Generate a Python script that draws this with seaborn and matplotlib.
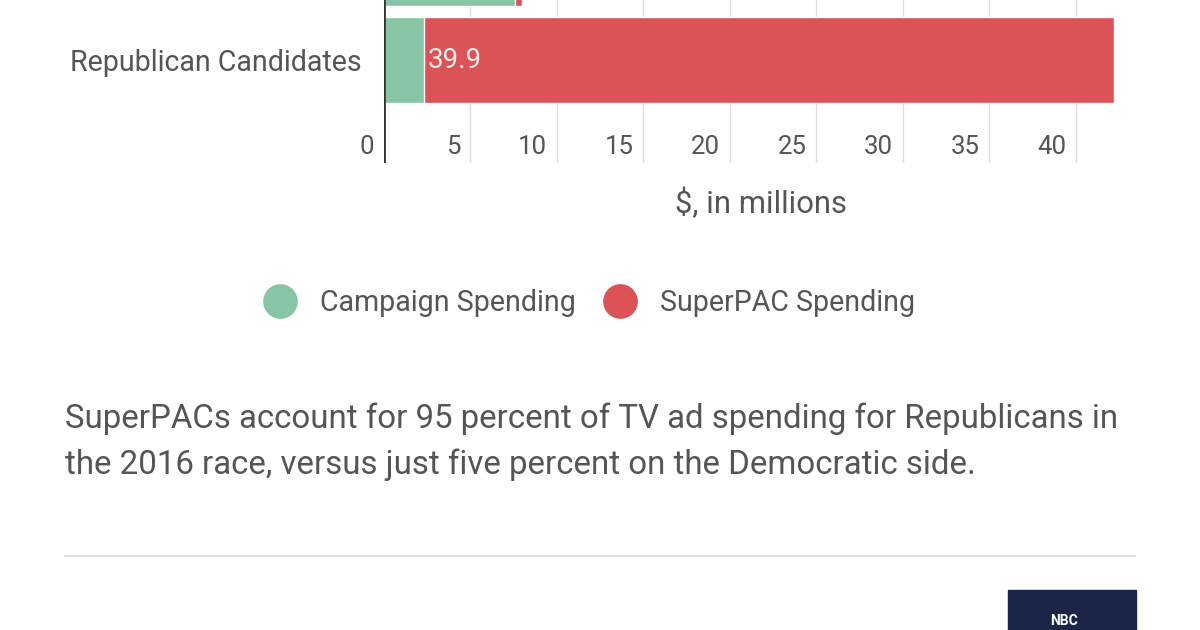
import matplotlib
matplotlib.use("Agg")
import matplotlib.pyplot as plt
import matplotlib.patches as patches
import matplotlib.transforms as mtransforms
from matplotlib.lines import Line2D
import seaborn as sns

# data (millions of dollars, TV ad spending)
groups = ["Democratic Candidates", "Republican Candidates"]
campaign = [7.6, 2.3]
superpac = [0.4, 39.9]
x_ticks = [0, 5, 10, 15, 20, 25, 30, 35, 40]
legend_labels = ["Campaign Spending", "SuperPAC Spending"]
caption = ("SuperPACs account for 95 percent of TV ad spending for Republicans in\n"
           "the 2016 race, versus just five percent on the Democratic side.")

totals = [c + s for c, s in zip(campaign, superpac)]

colors = {
    'green': '#88c5a5',
    'red': '#db5356',
    'text': '#555555',
    'grid': '#dddddd',
    'zero': '#333333',
    'navy': '#1b2547',
}

sns.set_theme(style="white")
plt.rcParams['font.family'] = ['Roboto', 'DejaVu Sans']

W, H = 1200, 630
fig = plt.figure(figsize=(W / 100, H / 100), dpi=100, facecolor='white')

# axes: x=0 at 384px, right edge 1114px, bottom at 163px from top
ax = fig.add_axes([384 / W, (H - 163) / H, 730 / W, 163 / H])
ax.set_facecolor('white')

# stacked bars: total (red) underneath, campaign (green) on top
sns.barplot(x=totals, y=groups, color=colors['red'], orient='h',
            width=0.886, saturation=1, ax=ax, zorder=2)
sns.barplot(x=campaign, y=groups, color=colors['green'], orient='h',
            width=0.886, saturation=1, ax=ax, zorder=3)

ax.set_xlim(0, 42.2)
ax.set_ylim(2.062, 0.381)

for s in ax.spines.values():
    s.set_visible(False)

# grid lines and zero line
for t in x_ticks[1:]:
    ax.axvline(t, color=colors['grid'], lw=1, zorder=1)
ax.axvline(0, color=colors['zero'], lw=2, zorder=4)

# x tick labels sit inside the axes, left of each grid line
ax.set_xticks([])
ax.set_xlabel("")
lab_tr = mtransforms.offset_copy(ax.get_xaxis_transform(), fig=fig, x=-10, y=0, units='dots')
for t in x_ticks:
    ax.text(t, 0.098, str(t), transform=lab_tr, ha='right', va='center',
            fontsize=18.5, color=colors['text'])

ax.set_ylabel("")
ax.tick_params(axis='y', length=0, pad=16, labelsize=20.6, labelcolor=colors['text'])

# value label on the Republican superPAC bar
val_tr = mtransforms.offset_copy(ax.transData, fig=fig, x=4, y=0, units='dots')
ax.text(campaign[1], 1, f"{superpac[1]}", transform=val_tr, ha='left', va='center',
        fontsize=20, color='white', alpha=0.9, zorder=5)

# axis title
fig.text(761 / W, 1 - 203 / H, "$, in millions", ha='center', va='center',
         fontsize=22.3, color=colors['text'])

# legend with round markers
handles = [Line2D([], [], marker='o', ls='', markersize=25, markeredgewidth=0,
                  markerfacecolor=colors[c]) for c in ('green', 'red')]
fig.legend(handles, legend_labels, loc='center', bbox_to_anchor=(590 / W, 1 - 303 / H),
           ncol=2, frameon=False, fontsize=20.6, labelcolor=colors['text'],
           handletextpad=0.85, columnspacing=1.0, handlelength=1.1)

# caption
fig.text(65 / W, 1 - 442 / H, caption, ha='left', va='center', fontsize=23.8,
         color=colors['text'], linespacing=1.55)

# separator rule
fig.add_artist(Line2D([65 / W, 1135 / W], [1 - 556 / H, 1 - 556 / H],
                      color=colors['grid'], lw=1.5))

# logo box at bottom right
fig.add_artist(patches.Rectangle((1008 / W, 0), 128 / W, 40 / H,
                                 transform=fig.transFigure, color=colors['navy']))
fig.text(1050 / W, 1 - 614 / H, "NBC", ha='left', va='top', fontsize=10,
         fontweight='bold', color='white')

fig.savefig("out.png", dpi=100, facecolor='white')
plt.close(fig)
